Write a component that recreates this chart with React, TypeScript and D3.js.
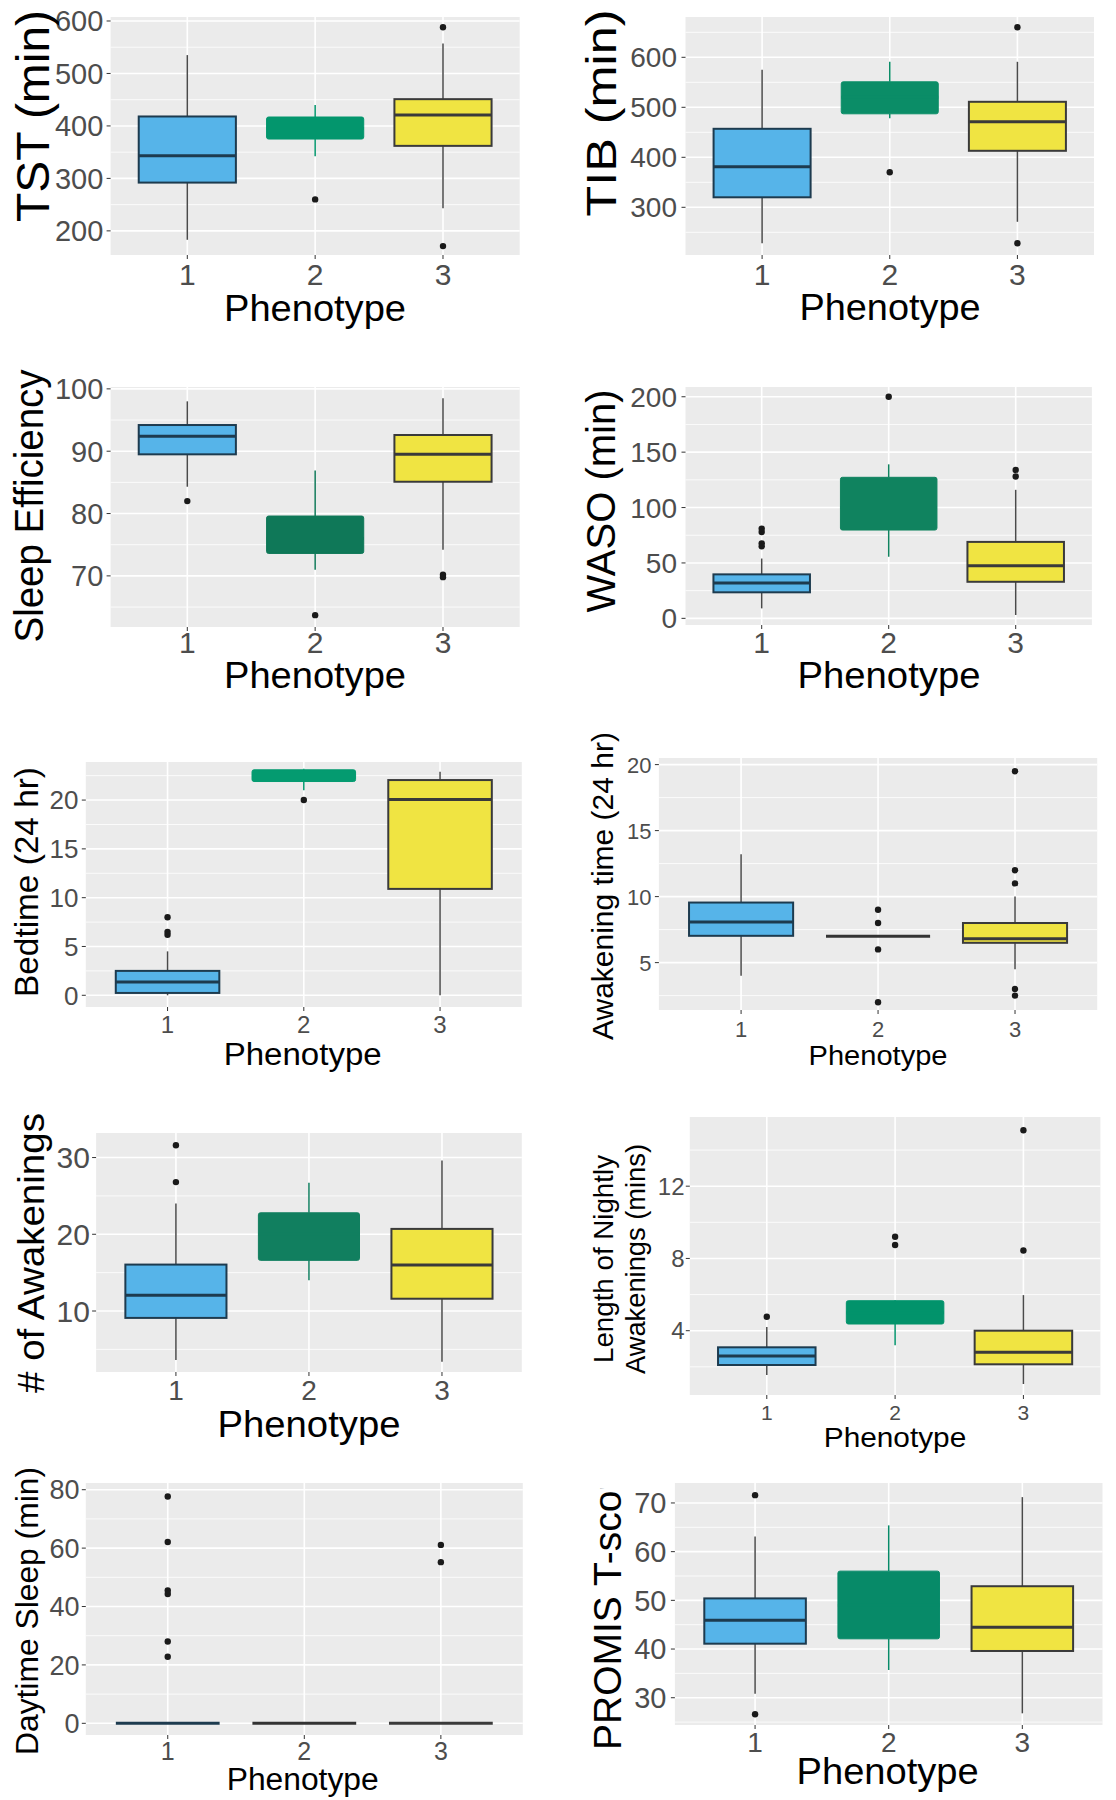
import React from 'react';
import * as d3 from 'd3';

// ---------- DATA ----------
const phenotypes = ['1', '2', '3'];
// each stats row: [lower whisker, Q1, median, Q3, upper whisker]
const tstStats = [[183, 292, 343, 418, 535], [342, 375, 395, 417, 440], [243, 362, 421, 451, 557]];
const tstOutliers = [[], [260], [588, 171]];
const tstTicks = [200, 300, 400, 500, 600];

const tibStats = [[228, 320, 381, 457, 575], [478, 487, 520, 551, 591], [271, 413, 471, 511, 591]];
const tibOutliers = [[], [370], [660, 228]];
const tibTicks = [300, 400, 500, 600];

const seStats = [[84.3, 89.5, 92.4, 94.2, 98], [71, 73.6, 76, 79.6, 86.9], [74.2, 85.1, 89.5, 92.6, 98.5]];
const seOutliers = [[82], [63.7], [70.2, 69.8]];
const seTicks = [70, 80, 90, 100];

const wasoStats = [[9, 23.5, 32, 39.7, 54], [55.6, 79.7, 100, 127.3, 139], [3, 33, 47.5, 69, 116]];
const wasoOutliers = [[81, 78, 67.7, 65], [200], [134, 128]];
const wasoTicks = [0, 50, 100, 150, 200];

const bedStats = [[0, 0.24, 1.36, 2.5, 4.5], [21, 21.9, 22.5, 23.1, 23.2], [0, 10.9, 20.07, 22.05, 22.9]];
const bedOutliers = [[8, 6.5, 6.2], [20], []];
const bedTicks = [0, 5, 10, 15, 20];

const wakeStats = [[4, 7.03, 8.07, 9.55, 13.2], [7, 7, 7, 7, 7], [4.5, 6.5, 6.8, 8, 10]];
const wakeOutliers = [[], [9, 8, 6, 2], [19.5, 12, 11, 3, 2.5]];
const wakeTicks = [5, 10, 15, 20];

const nawStats = [[3.6, 9.1, 12.05, 16.05, 24], [14, 16.6, 20, 22.8, 26.7], [3.4, 11.6, 16, 20.7, 29.6]];
const nawOutliers = [[31.6, 26.8], [], []];
const nawTicks = [10, 20, 30];

const lenStats = [[1.55, 2.1, 2.6, 3.08, 4.2], [3.2, 4.37, 5, 5.66, 5.7], [1.05, 2.14, 2.8, 4, 5.97]];
const lenOutliers = [[4.77], [9.2, 8.74], [15.1, 8.44]];
const lenTicks = [4, 8, 12];

const daySleepStats = [[0, 0, 0, 0, 0], [0, 0, 0, 0, 0], [0, 0, 0, 0, 0]];
const daySleepOutliers = [[77.7, 62.1, 45.5, 44.3, 28, 22.8], [], [61.1, 55.2]];
const daySleepTicks = [0, 20, 40, 60, 80];

const promisStats = [[30.8, 41.1, 45.9, 50.4, 63.1], [35.7, 42.1, 49, 56, 65.4], [26.8, 39.6, 44.5, 52.9, 71.2]];
const promisOutliers = [[71.6, 26.6], [], []];
const promisTicks = [30, 40, 50, 60, 70];

// ---------- STYLE / LAYOUT ----------
const FONT = "'Liberation Sans', Arial, Helvetica, sans-serif";
const BLUE = '#56B4E9';
const YELLOW = '#F0E442';

type Layout = {
  x0: number; x1: number; y0: number; y1: number;
  yTickSize: number; yTickRight: number;
  xTickSize: number; xTickBase: number;
  xTitleX: number; xTitleBase: number; xTitleSize: number; xTitleLen: number;
  yTitleBase: number[]; yTitleY: number; yTitleSize: number; yTitleLen?: number[];
  clipTop?: number; yTitleStart?: number;
};

const panels = [
  { stats: tstStats, outliers: tstOutliers, ticks: tstTicks, domain: [154, 607.6], title: ['TST (min)'], green: '#03966D',
    L: { x0: 110.6, x1: 519.7, y0: 17, y1: 255, yTickSize: 29, yTickRight: 103.3, xTickSize: 30, xTickBase: 285, xTitleX: 315, xTitleBase: 321, xTitleSize: 36, xTitleLen: 182, yTitleBase: [48.6], yTitleY: 116, yTitleSize: 47, yTitleLen: [212] } },
  { stats: tibStats, outliers: tibOutliers, ticks: tibTicks, domain: [204.6, 680.6], title: ['TIB (min)'], green: '#0B8D67',
    L: { x0: 685.5, x1: 1094, y0: 17, y1: 255, yTickSize: 28, yTickRight: 677, xTickSize: 30, xTickBase: 285, xTitleX: 890, xTitleBase: 320, xTitleSize: 36, xTitleLen: 181, yTitleBase: [616.4], yTitleY: 113, yTitleSize: 42, yTitleLen: [207] } },
  { stats: seStats, outliers: seOutliers, ticks: seTicks, domain: [61.8, 100.3], title: ['Sleep Efficiency'], green: '#0F7858',
    L: { x0: 110.6, x1: 519.7, y0: 387, y1: 627, yTickSize: 29, yTickRight: 103.3, xTickSize: 30, xTickBase: 653, xTitleX: 315, xTitleBase: 688, xTitleSize: 36, xTitleLen: 182, yTitleBase: [43.4], yTitleY: 506, yTitleSize: 41, yTitleLen: [273] } },
  { stats: wasoStats, outliers: wasoOutliers, ticks: wasoTicks, domain: [-6, 208.8], title: ['WASO (min)'], green: '#10835F',
    L: { x0: 685.5, x1: 1091.9, y0: 387, y1: 625, yTickSize: 28, yTickRight: 677, xTickSize: 30, xTickBase: 653, xTitleX: 889, xTitleBase: 688, xTitleSize: 36, xTitleLen: 183, yTitleBase: [615.3], yTitleY: 501, yTitleSize: 40, yTitleLen: [223] } },
  { stats: bedStats, outliers: bedOutliers, ticks: bedTicks, domain: [-1.2, 23.9], title: ['Bedtime (24 hr)'], green: '#049B70',
    L: { x0: 85.8, x1: 521.8, y0: 762, y1: 1007, yTickSize: 26, yTickRight: 78.5, xTickSize: 24, xTickBase: 1033, xTitleX: 302.7, xTitleBase: 1065, xTitleSize: 31, xTitleLen: 158, yTitleBase: [38.2], yTitleY: 882, yTitleSize: 33, yTitleLen: [230] } },
  { stats: wakeStats, outliers: wakeOutliers, ticks: wakeTicks, domain: [1.41, 20.5], title: ['Awakening time (24 hr)'], green: '#0A8F68',
    L: { x0: 658.9, x1: 1097.2, y0: 758, y1: 1010, yTickSize: 22, yTickRight: 651.5, xTickSize: 22, xTickBase: 1037, xTitleX: 878, xTitleBase: 1065, xTitleSize: 27, xTitleLen: 139, yTitleBase: [613.2], yTitleY: 886, yTitleSize: 30, yTitleLen: [308] } },
  { stats: nawStats, outliers: nawOutliers, ticks: nawTicks, domain: [2.05, 33.2], title: ['# of Awakenings'], green: '#117F5F',
    L: { x0: 96.1, x1: 521.8, y0: 1133, y1: 1372, yTickSize: 30, yTickRight: 89.9, xTickSize: 28, xTickBase: 1400, xTitleX: 309, xTitleBase: 1437, xTitleSize: 36, xTitleLen: 183, yTitleBase: [44.4], yTitleY: 1253, yTitleSize: 37, yTitleLen: [280] } },
  { stats: lenStats, outliers: lenOutliers, ticks: lenTicks, domain: [0.44, 15.83], title: ['Length of Nightly', 'Awakenings (mins)'], green: '#02936B',
    L: { x0: 689.8, x1: 1100.4, y0: 1117, y1: 1395, yTickSize: 24, yTickRight: 684.5, xTickSize: 21, xTickBase: 1420, xTitleX: 895, xTitleBase: 1447, xTitleSize: 28, xTitleLen: 142.5, yTitleBase: [613.2, 645.1], yTitleY: 1259, yTitleSize: 28, yTitleLen: [208, 230] } },
  { stats: daySleepStats, outliers: daySleepOutliers, ticks: daySleepTicks, domain: [-4, 82.3], title: ['Daytime Sleep (min)'], green: '#009E73',
    L: { x0: 85.8, x1: 522.8, y0: 1483, y1: 1735, yTickSize: 27, yTickRight: 79.6, xTickSize: 25, xTickBase: 1760, xTitleX: 302.7, xTitleBase: 1790, xTitleSize: 31, xTitleLen: 152, yTitleBase: [38.2], yTitleY: 1611, yTitleSize: 32, yTitleLen: [288] } },
  { stats: promisStats, outliers: promisOutliers, ticks: promisTicks, domain: [24.4, 74.1], title: ['PROMIS T-score'], green: '#078A68',
    L: { x0: 674.9, x1: 1102.5, y0: 1483, y1: 1725, yTickSize: 29, yTickRight: 666.4, xTickSize: 28, xTickBase: 1752, xTitleX: 887.6, xTitleBase: 1784, xTitleSize: 36, xTitleLen: 182, yTitleBase: [620.6], yTitleY: 0, yTitleSize: 39, clipTop: 1488, yTitleStart: 1750 } },
];

function BoxPanel({ p, idx }: { p: any; idx: number }) {
  const L: Layout = p.L;
  const x = d3.scalePoint<string>().domain(phenotypes).range([L.x0, L.x1]).padding(0.6);
  const y = d3.scaleLinear().domain(p.domain).range([L.y1, L.y0]);
  const bw = x.step() * 0.76;
  const t: number[] = p.ticks;
  const dt = t[1] - t[0];
  const minors: number[] = [];
  for (let v = t[0] - dt / 2; v <= p.domain[1]; v += dt) if (v >= p.domain[0]) minors.push(v);

  const fills = [BLUE, p.green, YELLOW];
  const clipId = `clip-${idx}`;

  return (
    <g>
      <rect x={L.x0} y={L.y0} width={L.x1 - L.x0} height={L.y1 - L.y0} fill="#EBEBEB" />
      {minors.map((v, i) => (
        <line key={'mi' + i} x1={L.x0} x2={L.x1} y1={y(v)} y2={y(v)} stroke="#FFFFFF" strokeWidth={0.8} />
      ))}
      {t.map((v) => (
        <line key={'ma' + v} x1={L.x0} x2={L.x1} y1={y(v)} y2={y(v)} stroke="#FFFFFF" strokeWidth={1.6} />
      ))}
      {phenotypes.map((c) => (
        <line key={'vg' + c} x1={x(c)} x2={x(c)} y1={L.y0} y2={L.y1} stroke="#FFFFFF" strokeWidth={1.6} />
      ))}
      {/* boxes */}
      {phenotypes.map((c, gi) => {
        const [lo, q1, med, q3, hi] = p.stats[gi];
        const cx = x(c) as number;
        const flat = q3 - q1 < 1e-9;
        const stroke = gi === 0 ? '#1D3B4F' : gi === 1 ? (flat ? '#333333' : p.green) : '#3A3A3A';
        const whisk = gi === 1 ? (flat ? '#333333' : p.green) : '#4A4A4A';
        return (
          <g key={'b' + c}>
            <line x1={cx} x2={cx} y1={y(hi)} y2={y(q3)} stroke={whisk} strokeWidth={1.5} />
            <line x1={cx} x2={cx} y1={y(q1)} y2={y(lo)} stroke={whisk} strokeWidth={1.5} />
            {flat ? (
              <line x1={cx - bw / 2} x2={cx + bw / 2} y1={y(med)} y2={y(med)} stroke={stroke} strokeWidth={3} />
            ) : (
              <>
                <rect x={cx - bw / 2} y={y(q3)} width={bw} height={y(q1) - y(q3)} fill={fills[gi]} stroke={stroke} strokeWidth={gi === 1 ? 1 : 2} rx={gi === 1 ? 2 : 0} />
                <line x1={cx - bw / 2} x2={cx + bw / 2} y1={y(med)} y2={y(med)} stroke={gi === 1 ? p.green : stroke} strokeWidth={3} />
              </>
            )}
            {p.outliers[gi].map((v: number, k: number) => (
              <circle key={'o' + k} cx={cx} cy={y(v)} r={3.2} fill="#1A1A1A" />
            ))}
          </g>
        );
      })}
      {/* y ticks */}
      {t.map((v) => (
        <g key={'yt' + v}>
          <line x1={L.x0 - 4} x2={L.x0} y1={y(v)} y2={y(v)} stroke="#333333" strokeWidth={1} />
          <text x={L.yTickRight} y={y(v)} dy="0.36em" textAnchor="end" fontSize={L.yTickSize} fill="#4D4D4D" fontFamily={FONT}>{v}</text>
        </g>
      ))}
      {/* x ticks */}
      {phenotypes.map((c) => (
        <g key={'xt' + c}>
          <line x1={x(c)} x2={x(c)} y1={L.y1} y2={L.y1 + 4} stroke="#333333" strokeWidth={1} />
          <text x={x(c)} y={L.xTickBase} textAnchor="middle" fontSize={L.xTickSize} fill="#4D4D4D" fontFamily={FONT}>{c}</text>
        </g>
      ))}
      <text x={L.xTitleX} y={L.xTitleBase} textAnchor="middle" fontSize={L.xTitleSize} fill="#000" fontFamily={FONT}
        textLength={L.xTitleLen} lengthAdjust="spacingAndGlyphs">Phenotype</text>
      {/* y title */}
      {L.clipTop !== undefined ? (
        <>
          <defs>
            <clipPath id={clipId}>
              <rect x={L.yTitleBase[0] - 60} y={L.clipTop} width={80} height={1800 - L.clipTop} />
            </clipPath>
          </defs>
          <g clipPath={`url(#${clipId})`}>
            <text transform={`translate(${L.yTitleBase[0]},${L.yTitleStart}) rotate(-90)`} textAnchor="start" fontSize={L.yTitleSize} fill="#000" fontFamily={FONT}>{p.title[0]}</text>
          </g>
        </>
      ) : (
        p.title.map((line: string, li: number) => (
          <text key={'yl' + li} transform={`translate(${L.yTitleBase[li]},${L.yTitleY}) rotate(-90)`} textAnchor="middle" fontSize={L.yTitleSize} fill="#000" fontFamily={FONT}
            textLength={L.yTitleLen ? L.yTitleLen[li] : undefined} lengthAdjust="spacingAndGlyphs">{line}</text>
        ))
      )}
    </g>
  );
}

export default function App() {
  return (
    <svg width={1116} height={1800} viewBox="0 0 1116 1800" style={{ position: 'absolute', left: 0, top: 0, background: '#FFFFFF' }}>
      <rect x={0} y={0} width={1116} height={1800} fill="#FFFFFF" />
      {panels.map((p, i) => (
        <BoxPanel key={i} p={p} idx={i} />
      ))}
    </svg>
  );
}
